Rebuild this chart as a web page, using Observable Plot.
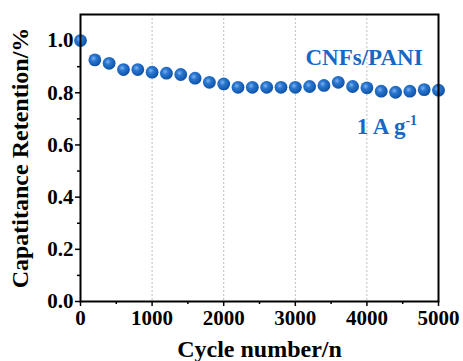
<!DOCTYPE html>
<html><head><meta charset="utf-8">
<script src="https://cdn.jsdelivr.net/npm/d3@7"></script>
<script src="https://cdn.jsdelivr.net/npm/@observablehq/plot@0.6"></script>
<style>
body{margin:0;background:#fff;}
svg{font-family:"Liberation Serif","Times New Roman",serif;}
</style></head>
<body><div id="chart"></div>
<script>
const cycles = [0,200,400,600,800,1000,1200,1400,1600,1800,2000,2200,2400,2600,2800,3000,3200,3400,3600,3800,4000,4200,4400,4600,4800,5000];
const retention = [1.0,0.926,0.913,0.889,0.889,0.879,0.875,0.870,0.856,0.840,0.834,0.821,0.821,0.821,0.821,0.821,0.824,0.828,0.840,0.824,0.819,0.806,0.802,0.806,0.812,0.810];
const xMajor = [0,1000,2000,3000,4000,5000];
const xMinor = [500,1500,2500,3500,4500];
const xGrid = [1000,2000,3000,4000];
const yMajor = [0,0.2,0.4,0.6,0.8,1.0];
const yMinor = [0.1,0.3,0.5,0.7,0.9];
const data = cycles.map((c,i)=>({c, r: retention[i]}));

const plot = Plot.plot({
  width: 463, height: 361,
  marginLeft: 80, marginRight: 25, marginTop: 14, marginBottom: 60,
  style: {fontFamily: "Liberation Serif", background: "#fff"},
  x: {domain: [0,5000]},
  y: {domain: [0,1.1]},
  marks: [
    Plot.gridX(xGrid, {stroke: "#999", strokeOpacity: 0.8, strokeWidth: 0.8, strokeDasharray: "2,2"}),
    Plot.axisX(xMajor, {tickSize: 5, tickPadding: 4, fontSize: 21, fontWeight: "bold", stroke: "#000", strokeWidth: 1.5, color: "#000", label: null, tickFormat: d=>String(d)}),
    Plot.axisX(xMinor, {tickSize: 3, stroke: "#000", strokeWidth: 1.5, tickFormat: () => "", label: null}),
    Plot.axisY(yMajor, {tickSize: 5, tickPadding: 2, fontSize: 21, fontWeight: "bold", stroke: "#000", strokeWidth: 1.5, color: "#000", label: null, tickFormat: d=>d.toFixed(1)}),
    Plot.axisY(yMinor, {tickSize: 3, stroke: "#000", strokeWidth: 1.5, tickFormat: () => "", label: null}),
    Plot.dot(data, {x: "c", y: "r", r: 6.4, fill: "url(#ballGrad)", stroke: "none"}),
    Plot.frame({stroke: "#000", strokeWidth: 2}),
    Plot.text(["CNFs/PANI"], {x: 3960, y: 0.935, fill: "#1767c4", fontSize: 23, fontWeight: "bold", textAnchor: "middle"}),
    Plot.text(["1 A g-1"], {x: 4280, y: 0.672, fill: "#1767c4", fontSize: 23, fontWeight: "bold", textAnchor: "middle"}),
    Plot.text(["Cycle number/n"], {frameAnchor: "bottom", dy: 55, fontSize: 24, fontWeight: "bold", fill: "#000"}),
    Plot.text(["Capatitance Retention/%"], {frameAnchor: "left", dx: -60, rotate: -90, textAnchor: "middle", fontSize: 24, fontWeight: "bold", fill: "#000"})
  ]
});
const svg = d3.select(plot);
const defs = svg.insert("defs", ":first-child");
const g = defs.append("radialGradient").attr("id","ballGrad").attr("cx","0.4").attr("cy","0.38").attr("r","0.65");
g.append("stop").attr("offset","0").attr("stop-color","#7fb3f0");
g.append("stop").attr("offset","0.35").attr("stop-color","#2a77d0");
g.append("stop").attr("offset","0.85").attr("stop-color","#1259b0");
g.append("stop").attr("offset","1").attr("stop-color","#0d4a96");
svg.selectAll("text").filter(function(){return this.textContent==="1 A g-1";}).each(function(){
  const t = d3.select(this);
  t.text("");
  t.append("tspan").text("1 A g");
  t.append("tspan").attr("font-size","14").attr("dy","-9").text("-1");
});
document.getElementById("chart").appendChild(plot);
</script></body></html>
